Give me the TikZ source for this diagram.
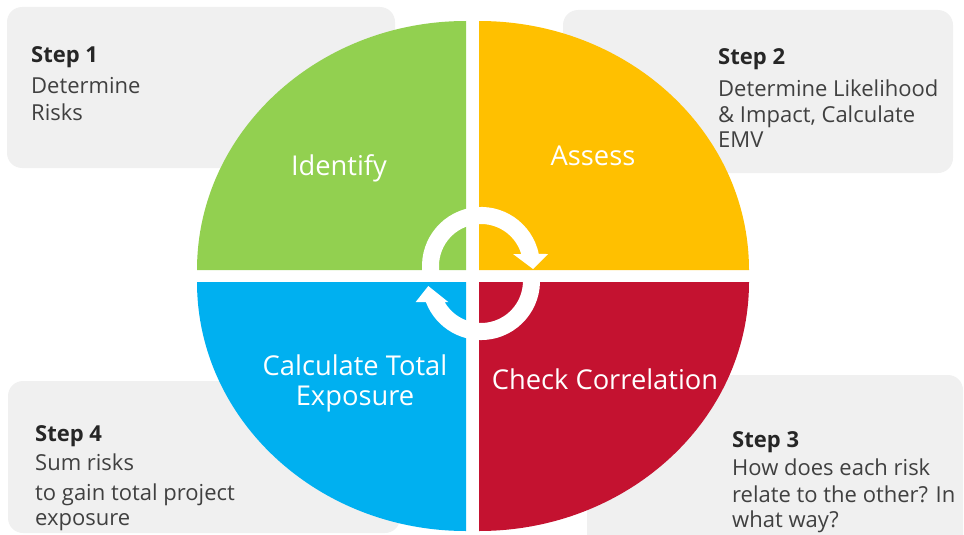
\documentclass[tikz,border=0pt]{standalone}
\usepackage{fontspec}
\setmainfont{Open Sans}
\definecolor{idgreen}{HTML}{92D050}
\definecolor{asyellow}{HTML}{FFC000}
\definecolor{chred}{HTML}{C41230}
\definecolor{caltblue}{HTML}{00B0F0}
\definecolor{panelgray}{HTML}{F0F0F0}
\definecolor{bodytext}{HTML}{404040}
\definecolor{headtext}{HTML}{262626}
\begin{document}
\begin{tikzpicture}[x=1pt,y=-1pt,
  panel/.style={fill=panelgray,rounded corners=15pt},
  ring/.style={fill=white},
  steptitle/.style={anchor=base west,inner sep=0pt,text=headtext,font=\fontsize{22}{26}\selectfont\bfseries},
  steptext/.style={anchor=base west,inner sep=0pt,text=bodytext,font=\fontsize{22}{26}\selectfont},
  quadlabel/.style={anchor=base,inner sep=0pt,text=white,font=\fontsize{27.3}{31}\selectfont,align=center}]
\useasboundingbox (0,0) rectangle (964,535);
\clip (0,0) rectangle (964,535);

% grey panels behind the wheel
\fill[panel] (7,7) rectangle (395,168);
\fill[panel] (563,10) rectangle (953,173);
\fill[panel] (8,381) rectangle (400,533);
\fill[panel] (587,375) rectangle (963,550);

% the four quarters of the wheel
\fill[idgreen] (466,270) -- (197,270) arc[start angle=180,end angle=270,x radius=269,y radius=249] -- cycle;
\fill[asyellow] (479,270) -- (479,21) arc[start angle=270,end angle=360,x radius=270,y radius=249] -- cycle;
\fill[chred] (479,282) -- (749,282) arc[start angle=0,end angle=90,x radius=270,y radius=249] -- cycle;
\fill[caltblue] (466,282) -- (466,531) arc[start angle=90,end angle=180,x radius=269,y radius=249] -- cycle;

% circular arrows in the middle
\fill[ring] (422.9,276.2) arc[start angle=170,end angle=348.3,radius=59]
  -- (548,254) -- (533,269) -- (513,254) -- (521.25,254)
  arc[start angle=343.4,end angle=170,radius=42] -- cycle;
\fill[ring] (539.1,270.8) arc[start angle=-10,end angle=159.15,radius=59]
  -- (415.7,302) -- (428.3,286) -- (448.3,302) -- (444.6,302)
  arc[start angle=150,end angle=-10,radius=42] -- cycle;

% quarter labels
\node[quadlabel] (identify) at (339,175) {Identify};
\node[quadlabel] (assess) at (593,165) {Assess};
\node[quadlabel] (calcA) at (355,375) {Calculate Total};
\node[quadlabel] (calcB) at (355,405) {Exposure};
\node[quadlabel] (check) at (605,389) {Check Correlation};

% step descriptions
\node[steptitle] (s1a) at (31,63) {Step 1};
\node[steptext] (s1b) at (31,93) {Determine};
\node[steptext] (s1c) at (31,121) {Risks};

\node[steptitle] (s2a) at (718,65) {Step 2};
\node[steptext] (s2b) at (718,96) {Determine Likelihood};
\node[steptext] (s2c) at (718,122) {\& Impact, Calculate};
\node[steptext] (s2d) at (718,147) {EMV};

\node[steptitle] (s3a) at (732,447) {Step 3};
\node[steptext] (s3b) at (732,475) {How does each risk};
\node[steptext] (s3c) at (732,502) {relate to the other? In};
\node[steptext] (s3d) at (732,527) {what way?};

\node[steptitle] (s4a) at (35,441) {Step 4};
\node[steptext] (s4b) at (35,470) {Sum risks};
\node[steptext] (s4c) at (35,500) {to gain total project};
\node[steptext] (s4d) at (35,525) {exposure};
\end{tikzpicture}
\end{document}
